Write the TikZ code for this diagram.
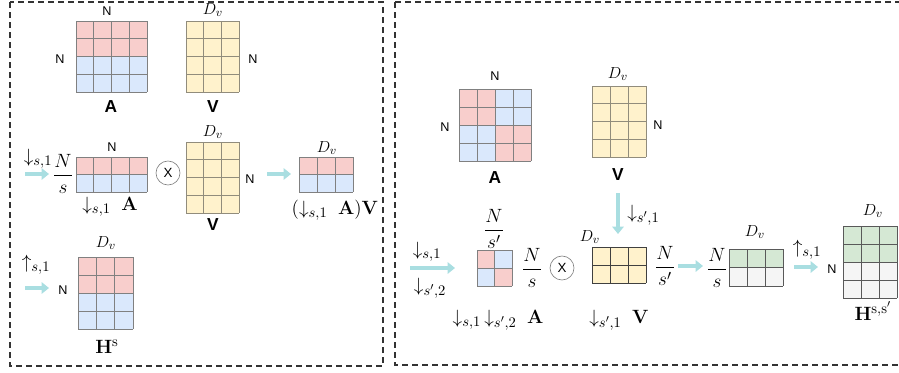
\documentclass[tikz,border=0pt]{standalone}
\usepackage[no-math]{fontspec}
\setmainfont{Liberation Sans}
\usepackage{amsmath}
\DeclareMathSizes{14}{14}{10.5}{8}
\usetikzlibrary{arrows.meta}
\definecolor{redc}{HTML}{F8CECC}
\definecolor{bluec}{HTML}{DAE8FC}
\definecolor{yelc}{HTML}{FFF2CC}
\definecolor{grnc}{HTML}{D5E8D4}
\definecolor{gryc}{HTML}{F5F5F5}
\definecolor{arrc}{HTML}{A9DEE1}
\definecolor{arrb}{HTML}{8CCFD3}
\newcommand{\matgrid}[7]{%
  \foreach \ii in {0,...,#5} \draw[#7] ({#1+(#3-#1)*\ii/#5},#2) -- ({#1+(#3-#1)*\ii/#5},#4);
  \foreach \jj in {0,...,#6} \draw[#7] (#1,{#2+(#4-#2)*\jj/#6}) -- (#3,{#2+(#4-#2)*\jj/#6});
}
\tikzset{
  gA/.style={draw=black!50, line width=0.6pt},
  gY/.style={draw=black!40!yelc!70!gray, line width=0.6pt},
  gD/.style={draw=black!75, line width=0.7pt},
  gG/.style={draw=black!65, line width=0.7pt},
  lbl/.style={inner sep=0pt, font=\fontsize{9.5}{11}\selectfont},
  blbl/.style={inner sep=0pt, font=\fontsize{13}{15}\selectfont\bfseries},
  mth/.style={inner sep=0pt, font=\fontsize{14}{17}\selectfont},
  dv/.style={inner sep=0pt, font=\fontsize{13}{15}\selectfont},
  hh/.style={inner sep=0pt, font=\fontsize{15.5}{18}\selectfont},
  fatarr/.style={draw=arrc, line width=3pt, -{Triangle[length=5.5pt,width=8.5pt]}},
  panel/.style={draw=black!80, line width=1.1pt, dash pattern=on 4.5pt off 3pt},
  otimes/.style={circle, draw=black!50, line width=0.5pt, minimum size=18pt, inner sep=0pt, font=\fontsize{10}{11}\selectfont}
}
\begin{document}
\begin{tikzpicture}[x=0.75pt,y=-0.75pt]
\useasboundingbox (0,0) rectangle (899,372);
% panels
\draw[panel] (10,2) rectangle (383,366);
\draw[panel] (395,2) rectangle (910,365);

% ===== LEFT PANEL =====
% A full
\fill[redc] (76,21) rectangle (147,56.5);
\fill[bluec] (76,56.5) rectangle (147,92);
\matgrid{76}{21}{147}{92}{4}{4}{gA}
\node[lbl] (lAn1) at (107,11) {N};
\node[lbl] (lAn2) at (60,59) {N};
\node[blbl] (lA) at (111,107) {A};
% V full
\fill[yelc] (186,21) rectangle (239,92);
\matgrid{186}{21}{239}{92}{3}{4}{gY}
\node[dv] (lVd) at (213,10) {$D_v$};
\node[lbl] (lVn) at (253,59) {N};
\node[blbl] (lV) at (213,107) {V};

% row 2
\coordinate (r2s) at (25,174); \coordinate (r2e) at (49,174);
\draw[fatarr] (r2s) -- (r2e);
\node[mth] (r2d) at (38,159) {$\downarrow_{s,1}$};
\node[mth] (r2f) at (63,174) {$\dfrac{N}{s}$};
\fill[redc] (76,157) rectangle (147,174.5);
\fill[bluec] (76,174.5) rectangle (147,192);
\matgrid{76}{157}{147}{192}{4}{2}{gA}
\node[lbl] (r2n) at (112,147) {N};
\node[mth] (r2A) at (110,207) {$\downarrow_{s,1}\ \mathbf{A}$};
\node[otimes] (r2x) at (168,173) {X};
\fill[yelc] (186,142) rectangle (239,213);
\matgrid{186}{142}{239}{213}{3}{4}{gY}
\node[dv] (r2Vd) at (213,132) {$D_v$};
\node[lbl] (r2Vn) at (250,179) {N};
\node[blbl] (r2V) at (213,225) {V};
\coordinate (r2s2) at (267,174); \coordinate (r2e2) at (291,174);
\draw[fatarr] (r2s2) -- (r2e2);
\fill[redc] (299,157) rectangle (353,174.5);
\fill[bluec] (299,174.5) rectangle (353,192);
\matgrid{299}{157}{353}{192}{3}{2}{gA}
\node[dv] (r2Rd) at (327,148) {$D_v$};
\node[mth] (r2R) at (335,210) {$(\downarrow_{s,1}\ \mathbf{A})\mathbf{V}$};

% row 3
\coordinate (r3s) at (25,288); \coordinate (r3e) at (49,288);
\draw[fatarr] (r3s) -- (r3e);
\node[mth] (r3u) at (36,265) {$\uparrow_{s,1}$};
\node[lbl] (r3n) at (63,290) {N};
\fill[redc] (78,257) rectangle (133,293);
\fill[bluec] (78,293) rectangle (133,329);
\matgrid{78}{257}{133}{329}{3}{4}{gA}
\node[dv] (r3d) at (106,243) {$D_v$};
\node[hh] (r3H) at (107,347) {$\mathbf{H}^{\mathrm{s}}$};

% ===== RIGHT PANEL =====
% A block
\fill[redc] (459,89) rectangle (495,125);
\fill[bluec] (495,89) rectangle (531,125);
\fill[bluec] (459,125) rectangle (495,161);
\fill[redc] (495,125) rectangle (531,161);
\matgrid{459}{89}{531}{161}{4}{4}{gA}
\node[lbl] (RAn1) at (495,76) {N};
\node[lbl] (RAn2) at (445,127) {N};
\node[blbl] (RA) at (495,178) {A};
% V
\fill[yelc] (592,86) rectangle (646,157);
\matgrid{592}{86}{646}{157}{3}{4}{gY}
\node[dv] (RVd) at (618,74) {$D_v$};
\node[lbl] (RVn) at (658,125) {N};
\node[blbl] (RV) at (618,175) {V};
% down arrow
\coordinate (Rds) at (618,193); \coordinate (Rde) at (618,234);
\draw[fatarr] (Rds) -- (Rde);
\node[mth, anchor=west] (Rdl) at (627,215) {$\downarrow_{s',1}$};

% lower row
\coordinate (Rls) at (410,268); \coordinate (Rle) at (455,268);
\draw[fatarr] (Rls) -- (Rle);
\node[mth] (Rl1) at (427,252) {$\downarrow_{s,1}$};
\node[mth] (Rl2) at (430,288) {$\downarrow_{s',2}$};
\fill[redc] (477,250) rectangle (494.5,268);
\fill[bluec] (494.5,250) rectangle (512,268);
\fill[bluec] (477,268) rectangle (494.5,286);
\fill[redc] (494.5,268) rectangle (512,286);
\matgrid{477}{250}{512}{286}{2}{2}{gA}
\node[mth] (Rsf1) at (494,229) {$\dfrac{N}{s'}$};
\node[mth] (Rsf2) at (532,268) {$\dfrac{N}{s}$};
\node[mth] (RsA) at (498,320) {$\downarrow_{s,1}\,\downarrow_{s',2}\ \mathbf{A}$};
\node[otimes] (Rx) at (562,268) {X};
\fill[yelc] (592,247) rectangle (646,283);
\matgrid{592}{247}{646}{283}{3}{2}{gD}
\node[dv] (Rsvd) at (590,237) {$D_v$};
\node[mth] (RsV) at (619,320) {$\downarrow_{s',1}\ \mathbf{V}$};
\node[mth] (Rsf3) at (665,266) {$\dfrac{N}{s'}$};
\coordinate (Ras) at (678,266); \coordinate (Rae) at (703,266);
\draw[fatarr] (Ras) -- (Rae);
\node[mth] (Rsf4) at (717,268) {$\dfrac{N}{s}$};
\fill[grnc] (729,249) rectangle (783,267.5);
\fill[gryc] (729,267.5) rectangle (783,286);
\matgrid{729}{249}{783}{286}{3}{2}{gG}
\node[dv] (Rgd) at (755,232) {$D_v$};
\coordinate (Rbs) at (794,267); \coordinate (Rbe) at (818,267);
\draw[fatarr] (Rbs) -- (Rbe);
\node[mth] (Rup) at (807,250) {$\uparrow_{s,1}$};
\node[lbl] (Rbn) at (832,269) {N};
\fill[grnc] (843,226) rectangle (897,262);
\fill[gryc] (843,262) rectangle (897,298);
\matgrid{843}{226}{897}{298}{3}{4}{gG}
\node[dv] (RHd) at (873,211) {$D_v$};
\node[hh] (RH) at (873,311) {$\mathbf{H}^{\mathrm{s,s'}}$};
\end{tikzpicture}
\end{document}
